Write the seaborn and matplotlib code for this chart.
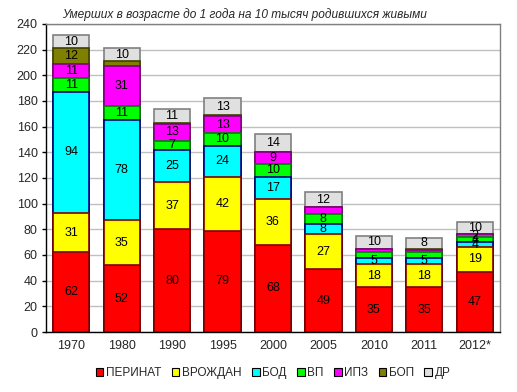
import numpy as np
import pandas as pd
import matplotlib
matplotlib.use("Agg")
import matplotlib.pyplot as plt
import seaborn as sns
from matplotlib.patches import Patch

# Data
years = ["1970", "1980", "1990", "1995", "2000", "2005", "2010", "2011", "2012*"]
series = ["ПЕРИНАТ", "ВРОЖДАН", "БОД", "ВП", "ИПЗ", "БОП", "ДР"]

perinat = [62, 52, 80, 79, 68, 49, 35, 35, 47]
vrozhdan = [31, 35, 37, 42, 36, 27, 18, 18, 19]
bod = [94, 78, 25, 24, 17, 8, 5, 5, 4]
vp = [11, 11, 7, 10, 10, 8, 4, 4, 4]
ipz = [11, 31, 13, 13, 9, 5, 3, 2, 2]
bop = [12, 4, 1, 1, 0, 0, 0, 1, 0]
dr = [10, 10, 11, 13, 14, 12, 10, 8, 10]

# segments whose value label is not printed in the original
hidden = [("БОП", "1980"), ("БОП", "1990"), ("БОП", "1995"), ("БОП", "2011"),
          ("ИПЗ", "2005"), ("ВП", "2010"), ("ИПЗ", "2010"),
          ("ВП", "2011"), ("ИПЗ", "2011")]

face = ["#FF0000", "#FFFF00", "#00FFFF", "#00FF00", "#FF00FF", "#808000", "#E0E0E0"]
edge = ["#800000", "#800000", "#000080", "#008000", "#800080", "#404000", "#808080"]

df = pd.DataFrame(
    {"ПЕРИНАТ": perinat, "ВРОЖДАН": vrozhdan, "БОД": bod, "ВП": vp,
     "ИПЗ": ipz, "БОП": bop, "ДР": dr},
    index=years,
)
cum = df.cumsum(axis=1)

sns.set_theme(style="white")
plt.rcParams["font.family"] = ["Liberation Sans", "DejaVu Sans"]

fig = plt.figure(figsize=(5.17, 3.92), dpi=100)
ax = fig.add_axes([0.089, 0.153, 0.878, 0.786])

# draw cumulative totals from the top layer down -> stacked look
for i in range(len(series) - 1, -1, -1):
    s = series[i]
    sns.barplot(x=years, y=cum[s].values, color=face[i], edgecolor=edge[i],
                linewidth=1.2, saturation=1, width=0.72, ax=ax, zorder=3)

# value labels in the middle of each segment
for i, s in enumerate(series):
    for j, yr in enumerate(years):
        v = df.loc[yr, s]
        if v <= 0 or (s, yr) in hidden:
            continue
        mid = cum.loc[yr, s] - v / 2
        ax.text(j, mid, str(v), ha="center", va="center", fontsize=9,
                color="black", zorder=5)

ax.set_ylim(0, 240)
ax.set_xlim(-0.5, len(years) - 0.5)
ax.set_yticks(range(0, 241, 20))
ax.yaxis.grid(True, color="#C0C0C0", linewidth=1)
ax.set_axisbelow(True)
ax.tick_params(axis="y", labelsize=9, length=3, width=1, color="black",
               left=True, pad=3)
ax.tick_params(axis="x", labelsize=9, length=0, pad=6)
ax.set_xlabel("")
ax.set_ylabel("")

for side in ["left", "bottom"]:
    ax.spines[side].set_color("black")
    ax.spines[side].set_linewidth(1)
for side in ["top", "right"]:
    ax.spines[side].set_color("#808080")
    ax.spines[side].set_linewidth(1)

fig.text(0.12, 0.962, "Умерших в возрасте до 1 года на 10 тысяч родившихся живыми",
         fontsize=8.6, style="italic", ha="left", va="center")

handles = [Patch(facecolor=face[i], edgecolor="black", linewidth=0.8, label=s)
           for i, s in enumerate(series)]
ax.legend(handles=handles, loc="upper center", bbox_to_anchor=(0.5, -0.095),
          ncol=7, frameon=False, fontsize=8.5, handlelength=0.65, handleheight=0.65,
          handletextpad=0.2, columnspacing=0.9, borderpad=0)

fig.savefig("out.png", dpi=100)
